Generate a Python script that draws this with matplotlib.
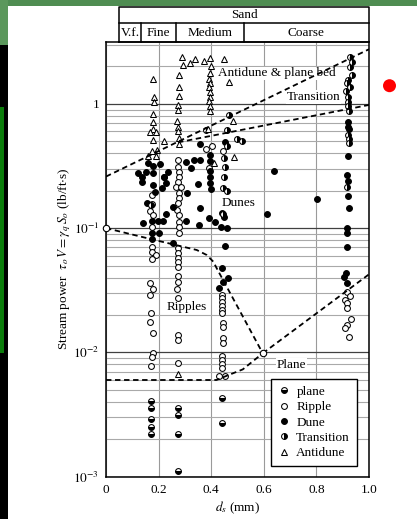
import matplotlib
matplotlib.use("Agg")
import numpy as np
import matplotlib.pyplot as plt
from matplotlib.lines import Line2D
from matplotlib.patches import Rectangle, Ellipse
from matplotlib.ticker import FixedLocator, LogLocator, NullFormatter

plt.rcParams['font.family'] = ['Liberation Serif', 'DejaVu Serif']
plt.rcParams['mathtext.fontset'] = 'stix'

# ---------------- data: median fall diameter d_s (mm) vs stream power ----------------
plane_d = [0.171, 0.171, 0.171, 0.171, 0.171, 0.273, 0.273, 0.273, 0.273, 0.440, 0.440]
plane_p = [0.00408, 0.00359, 0.0029, 0.00252, 0.00221, 0.00359, 0.00313, 0.00221, 0.00111,
           0.00428, 0.00272]

ripple_d = ([0.174, 0.176, 0.167, 0.178, 0.174, 0.174, 0.174, 0.189, 0.174, 0.167, 0.177, 0.167,
             0.171, 0.167, 0.177, 0.177, 0.174, 0.171]
            + [0.275, 0.275, 0.278, 0.278, 0.275, 0.268, 0.287, 0.278, 0.278, 0.272, 0.270, 0.278,
               0.278, 0.278, 0.278, 0.275, 0.273, 0.273, 0.273, 0.273, 0.273, 0.273, 0.271, 0.273,
               0.273, 0.273, 0.273]
            + [0.440, 0.440, 0.440, 0.440, 0.440, 0.440, 0.444, 0.444, 0.444, 0.444, 0.440, 0.440,
               0.440, 0.440, 0.431, 0.452]
            + [0.380, 0.403, 0.446, 0.393, 0.222]
            + [0.917, 0.928, 0.909, 0.917, 0.917, 0.930, 0.917, 0.909, 0.925])
ripple_p = ([0.185, 0.156, 0.138, 0.127, 0.103, 0.0709, 0.0646, 0.0608, 0.0564, 0.0364, 0.0322,
             0.029, 0.0209, 0.0177, 0.0144, 0.00984, 0.00914, 0.00778]
            + [0.353, 0.312, 0.283, 0.258, 0.233, 0.214, 0.214, 0.193, 0.175, 0.158, 0.140, 0.127,
               0.112, 0.103, 0.0908, 0.0688, 0.0627, 0.0578, 0.0531, 0.0489, 0.0412, 0.0371,
               0.0322, 0.0275, 0.0138, 0.0126, 0.00826]
            + [0.029, 0.0272, 0.0256, 0.0236, 0.0219, 0.0206, 0.0173, 0.0161, 0.013, 0.012,
               0.00935, 0.00869, 0.00802, 0.00745, 0.00646, 0.00646]
            + [0.433, 0.457, 0.417, 0.303, 0.256]
            + [0.0308, 0.0284, 0.0264, 0.0248, 0.0226, 0.0185, 0.0166, 0.0156, 0.0134])

dune_d = ([0.919, 0.921, 0.925, 0.919, 0.915, 0.921, 0.921, 0.924, 0.915, 0.915, 0.915, 0.913,
           0.906, 0.915]
          + [0.639, 0.803, 0.611]
          + [0.454, 0.357, 0.395, 0.304, 0.323, 0.335, 0.357]
          + [0.395, 0.395, 0.395, 0.395, 0.399]
          + [0.228, 0.214, 0.309, 0.351, 0.161, 0.180, 0.205, 0.123, 0.136, 0.152, 0.180, 0.136,
             0.178, 0.235, 0.186, 0.222]
          + [0.155, 0.140, 0.174, 0.199, 0.216, 0.228, 0.202, 0.174, 0.174, 0.304, 0.254, 0.254,
             0.440, 0.449, 0.414, 0.436, 0.461, 0.357, 0.354, 0.393, 0.452, 0.440, 0.444, 0.465,
             0.431])
dune_p = ([0.718, 0.647, 0.624, 0.380, 0.267, 0.239, 0.181, 0.144, 0.101, 0.0908, 0.070, 0.0433,
           0.0406, 0.036]
          + [0.288, 0.171, 0.131]
          + [0.495, 0.472, 0.387, 0.340, 0.304, 0.355, 0.355]
          + [0.347, 0.288, 0.258, 0.231, 0.206]
          + [0.229, 0.209, 0.190, 0.226, 0.336, 0.316, 0.328, 0.276, 0.259, 0.284, 0.279, 0.236,
             0.222, 0.284, 0.196, 0.259]
          + [0.160, 0.110, 0.114, 0.114, 0.115, 0.129, 0.0908, 0.0908, 0.0813, 0.115, 0.149,
             0.0755, 0.133, 0.124, 0.111, 0.103, 0.101, 0.144, 0.105, 0.121, 0.0718, 0.048,
             0.0371, 0.0394, 0.0331])

trans_d = ([0.467, 0.460, 0.499, 0.518, 0.460, 0.450, 0.452, 0.449, 0.446, 0.459, 0.446, 0.171,
            0.380]
           + [0.928, 0.934, 0.928, 0.934, 0.919, 0.917, 0.928, 0.913, 0.921, 0.921, 0.921, 0.925,
              0.921, 0.925, 0.924, 0.915])
trans_p = ([0.817, 0.615, 0.521, 0.502, 0.457, 0.364, 0.312, 0.259, 0.209, 0.199, 0.129, 0.153,
            0.615]
           + [2.37, 2.18, 1.99, 1.71, 1.55, 1.46, 1.37, 1.27, 1.13, 1.04, 0.96, 0.88, 0.561, 0.521,
              0.486, 0.215])

anti_d = ([0.290, 0.292, 0.321, 0.340, 0.373, 0.395, 0.400, 0.449, 0.279, 0.178, 0.469]
          + [0.394, 0.393, 0.394, 0.393, 0.396, 0.396, 0.393, 0.397, 0.397]
          + [0.279, 0.279, 0.275, 0.275, 0.270, 0.275, 0.275, 0.279, 0.279]
          + [0.183, 0.183, 0.180, 0.179, 0.178, 0.167, 0.190, 0.180, 0.195, 0.174, 0.161, 0.190,
             0.222]
          + [0.482, 0.389, 0.488, 0.412, 0.275])
anti_p = ([2.37, 2.05, 2.14, 2.29, 2.20, 2.32, 2.01, 2.28, 1.71, 1.59, 1.51]
          + [1.77, 1.57, 1.46, 1.36, 1.25, 1.14, 1.05, 0.966, 0.88]
          + [1.37, 1.16, 0.98, 0.89, 0.731, 0.647, 0.607, 0.528, 0.475]
          + [1.13, 1.03, 0.828, 0.710, 0.624, 0.596, 0.593, 0.514, 0.425, 0.417, 0.382, 0.380,
             0.502]
          + [0.728, 0.624, 0.375, 0.336, 0.00667])

# regime boundaries
upper_d, upper_p = [0.0, 1.0], [0.26, 2.75]
trans_line_d, trans_line_p = [0.274, 1.0], [0.49, 0.98]
ripple_dune_d = [0.0, 0.174, 0.345, 0.383, 0.408, 0.421, 0.596]
ripple_dune_p = [0.10, 0.0813, 0.0667, 0.0608, 0.0537, 0.0475, 0.00984]
plane_up_d, plane_up_p = [0.596, 1.0], [0.00984, 0.0425]
plane_low_d = [0.0, 0.42, 0.46, 0.52, 0.596]
plane_low_p = [0.006, 0.006, 0.0065, 0.0073, 0.00984]

# sand size classes
class_names = ['V.f.', 'Fine', 'Medium', 'Coarse']
class_edges = [0.0506, 0.133, 0.265, 0.524, 1.0]

ytick_vals = [1e-3, 1e-2, 1e-1, 1.0]
ytick_text = [r'$10^{-3}$', r'$10^{-2}$', r'$10^{-1}$', '1']
xtick_vals = [0, 0.2, 0.4, 0.6, 0.8, 1.0]
xtick_text = ['0', '0.2', '0.4', '0.6', '0.8', '1.0']

# ---------------- figure ----------------
W, H = 417, 519
fig = plt.figure(figsize=(W / 100, H / 100), dpi=100)
fig.patch.set_facecolor('white')


def band(x0, y0, x1, y1, color):
    fig.add_artist(Rectangle((x0 / W, 1 - y1 / H), (x1 - x0) / W, (y1 - y0) / H,
                             transform=fig.transFigure, facecolor=color, edgecolor='none',
                             zorder=0))


band(0, 0, W, 6, '#4f8d52')
band(0, 0, 8, 45, '#5b985c')
band(0, 45, 8, H, '#000000')
band(0, 107, 3.5, 353, '#0b7d0b')
fig.add_artist(Ellipse((389.5 / W, 1 - 85.7 / H), 13 / W, 13 / H, transform=fig.transFigure,
                       facecolor='#ff0000', edgecolor='none'))

FS = 9.5
ax = fig.add_axes([106 / W, 1 - 476.7 / H, 263 / W, 435 / H])
ax.set_xlim(0, 1)
ax.set_yscale('log')
ax.set_ylim(1e-3, 10 ** 0.5)

ax.yaxis.set_major_locator(FixedLocator(ytick_vals))
ax.set_yticklabels(ytick_text, fontsize=FS)
ax.yaxis.set_minor_locator(LogLocator(base=10, subs=np.arange(2, 10)))
ax.yaxis.set_minor_formatter(NullFormatter())
ax.set_xticks(xtick_vals)
ax.set_xticklabels(xtick_text, fontsize=FS)
ax.tick_params(which='both', length=0)
ax.tick_params(axis='y', pad=5)
ax.tick_params(axis='x', pad=5)

ax.grid(True, which='major', axis='y', color='#404040', lw=0.9)
ax.grid(True, which='minor', axis='y', color='#a9a9a9', lw=0.8)
ax.grid(True, which='major', axis='x', color='#9a9a9a', lw=0.8)
for s in ax.spines.values():
    s.set_linewidth(1.1)

# regime boundaries
dash = dict(color='black', lw=1.3, ls=(0, (3, 2)), zorder=5)
ax.plot(upper_d, upper_p, **dash)
ax.plot(trans_line_d, trans_line_p, **dash)
ax.plot(ripple_dune_d, ripple_dune_p, **dash)
ax.plot(plane_up_d, plane_up_p, **dash)
ax.plot(plane_low_d, plane_low_p, **dash)
ax.plot([ripple_dune_d[0], ripple_dune_d[-1]], [ripple_dune_p[0], ripple_dune_p[-1]],
        ls='none', marker='o', ms=4.6, mfc='white', mec='black', mew=0.8, zorder=6,
        clip_on=False)

# observations
ms = 4.2
mk = dict(ls='none', ms=ms, mec='black', mew=0.75, zorder=4)
styles = [
    ('plane', plane_d, plane_p, dict(marker='o', fillstyle='bottom', mfc='black', mfcalt='white')),
    ('Ripple', ripple_d, ripple_p, dict(marker='o', mfc='white')),
    ('Dune', dune_d, dune_p, dict(marker='o', mfc='black')),
    ('Transition', trans_d, trans_p, dict(marker='o', fillstyle='right', mfc='black',
                                          mfcalt='white')),
    ('Antidune', anti_d, anti_p, dict(marker='^', mfc='white', ms=ms + 0.4)),
]
handles = []
for name, d, p, st in styles:
    kw = dict(mk)
    kw.update(st)
    ax.plot(d, p, **kw)
    hk = dict(kw)
    hk.pop('zorder')
    handles.append(Line2D([], [], label=name, **hk))

# regime labels
box = dict(facecolor='white', edgecolor='none', pad=0.6)
ax.text(0.426, 1.76, 'Antidune & plane bed', fontsize=FS, va='center', ha='left', bbox=box,
        zorder=3)
ax.text(0.687, 1.14, 'Transition', fontsize=FS, va='center', ha='left', bbox=box, zorder=3)
ax.text(0.441, 0.158, 'Dunes', fontsize=FS, va='center', ha='left', bbox=box, zorder=3)
ax.text(0.231, 0.0231, 'Ripples', fontsize=FS, va='center', ha='left', bbox=box, zorder=3)
ax.text(0.649, 0.00792, 'Plane', fontsize=FS, va='center', ha='left', bbox=box, zorder=3)

leg = ax.legend(handles=handles, loc='lower right', bbox_to_anchor=(0.953, 0.0246),
                fontsize=FS, frameon=True, fancybox=False, edgecolor='black', framealpha=1,
                handlelength=0.9, handletextpad=0.5, borderpad=0.5, labelspacing=0.24,
                borderaxespad=0)
leg.get_frame().set_linewidth(1.0)
leg.set_zorder(7)

ax.set_xlabel(r'$d_s$ (mm)', fontsize=FS, labelpad=3)
ax.set_ylabel(r'Stream power  $\tau_o\,V = \gamma_q\,S_o$ (lb/ft$\cdot$s)', fontsize=FS)
ax.yaxis.set_label_coords(-0.125, 0.5)

# sand classification strip
tab = fig.add_axes([106 / W, 1 - 41.7 / H, 263 / W, 35 / H])
tab.set_xlim(0, 1)
tab.set_ylim(0, 2)
tab.axis('off')
lk = dict(color='black', lw=1.1, clip_on=False)
x0 = class_edges[0]
tab.plot([x0, 1, 1, x0, x0], [0, 0, 2, 2, 0], **lk)
tab.plot([x0, 1], [1.05, 1.05], **lk)
for e in class_edges[1:-1]:
    tab.plot([e, e], [0, 1.05], **lk)
tab.text((x0 + 1) / 2, 1.52, 'Sand', ha='center', va='center', fontsize=FS)
for name, a, b in zip(class_names, class_edges[:-1], class_edges[1:]):
    tab.text((a + b) / 2, 0.5, name, ha='center', va='center', fontsize=FS)

fig.savefig('out.png', dpi=100)
